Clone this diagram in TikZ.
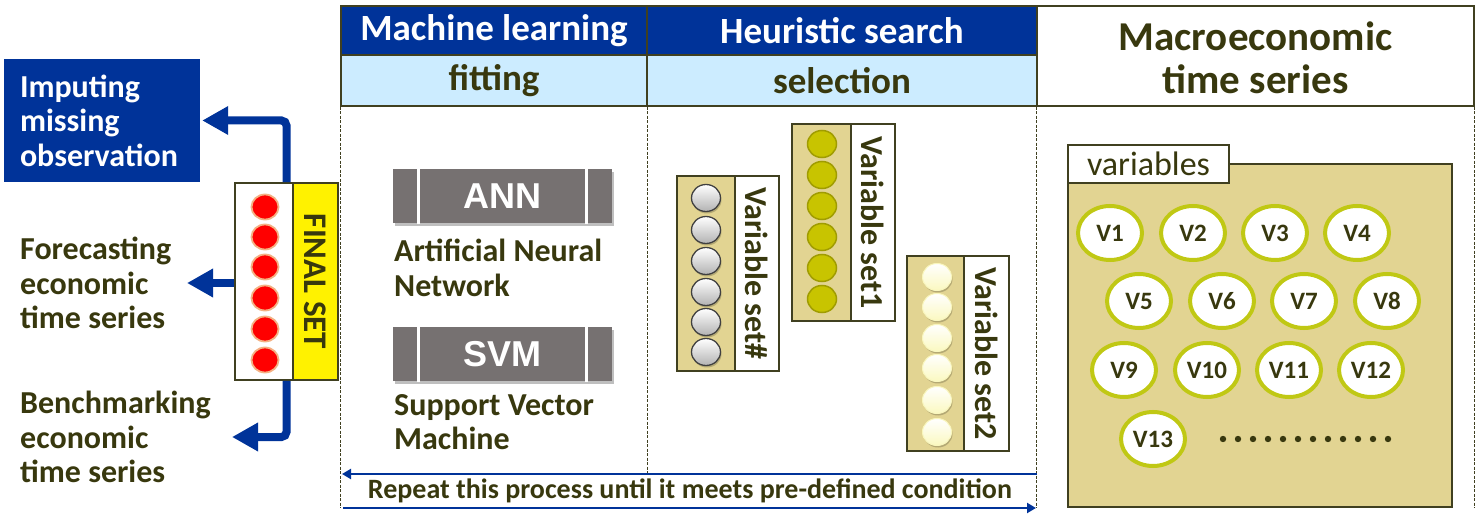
\documentclass[tikz,border=0pt]{standalone}
\usepackage{fontspec}
\setmainfont{Carlito}
\newfontfamily\arialf{Liberation Sans}
\usetikzlibrary{arrows.meta,shapes.geometric,shadows}
\definecolor{dol}{RGB}{56,56,14}
\definecolor{bord}{RGB}{64,64,32}
\definecolor{hblue}{RGB}{0,51,153}
\definecolor{lblue}{RGB}{204,236,255}
\definecolor{tan}{RGB}{226,212,146}
\definecolor{ygr}{RGB}{192,200,20}
\definecolor{gbox}{RGB}{118,113,113}
\definecolor{oball}{RGB}{200,196,0}
\definecolor{oballd}{RGB}{160,156,0}
\definecolor{pball}{RGB}{255,255,200}
\definecolor{peach}{RGB}{244,177,131}
\begin{document}
\begin{tikzpicture}[x=1pt,y=-1pt,
  lbl/.style={text=dol, font=\fontsize{32}{34.5}\selectfont\bfseries, align=left, inner sep=0},
  hcell/.style={draw=bord, line width=1.2pt, inner sep=0},
  htext/.style={font=\fontsize{37}{38}\selectfont\bfseries},
  bigarrow/.style={draw=hblue, line width=8pt, rounded corners=5pt, -{Triangle[length=26pt,width=27pt]}},
  dashline/.style={draw=bord, line width=1.2pt, dash pattern=on 3pt off 1.5pt},
  loop/.style={draw=hblue, line width=2.5pt, -{Triangle[length=9pt,width=10pt]}},
  mlbox/.style={fill=gbox, minimum width=219pt, minimum height=54pt, inner sep=0, text=white,
     font=\arialf\bfseries\fontsize{36}{36}\selectfont,
     drop shadow={shadow xshift=2pt, shadow yshift=-3pt, fill=black, opacity=.25}},
  setbox/.style={draw=bord, line width=1.5pt, fill=tan, inner sep=0},
  setlab/.style={draw=bord, line width=1.5pt, fill=white, inner sep=0, rotate=-90, text=dol,
     font=\fontsize{32}{32}\selectfont\bfseries},
  ball/.style={ellipse, minimum width=29pt, minimum height=27pt, inner sep=0},
  gball/.style={ball, draw=black!75, line width=1.3pt, top color=white, bottom color=black!30,
     drop shadow={shadow xshift=1pt, shadow yshift=-2pt, fill=black, opacity=.2}},
  oballs/.style={ball, draw=oballd, line width=1.5pt, fill=oball},
  pballs/.style={ball, draw=pball!80!tan, line width=1pt, top color=white, bottom color=pball!85!tan,
     drop shadow={shadow xshift=1pt, shadow yshift=-2pt, fill=black, opacity=.2}},
  rball/.style={ellipse, minimum width=27pt, minimum height=25pt, inner sep=0, fill=red, draw=peach, line width=1.8pt},
  vnode/.style={ellipse, minimum width=64pt, minimum height=54pt, inner sep=0, fill=white, draw=ygr,
     line width=4pt, text=dol, font=\fontsize{25}{25}\selectfont\bfseries}
]
\useasboundingbox (0,0) rectangle (1476,521);

% header cells
\node[hcell, fill=hblue, minimum width=306pt, minimum height=49pt] (ml) at (494,30.5) {};
\node[htext, text=white] at (ml.center) {Machine learning};
\node[hcell, fill=hblue, minimum width=390pt, minimum height=49pt] (hs) at (842,30.5) {};
\node[htext, text=white] at (hs.center) {Heuristic search};
\node[hcell, fill=lblue, minimum width=306pt, minimum height=51pt] (fit) at (494,80.5) {};
\node[htext, text=dol] at (fit.center) {fitting};
\node[hcell, fill=lblue, minimum width=390pt, minimum height=51pt] (sel) at (842,80.5) {};
\node[htext, text=dol] at (sel.center) {selection};
\node[hcell, fill=white, minimum width=437pt, minimum height=100pt] (mac) at (1255.5,56) {};
\node[text=dol, align=center, font=\fontsize{41}{43}\selectfont\bfseries] at (1255.5,58) {Macroeconomic\\time series};

% dashed separators
\coordinate (bot) at (0,508);
\coordinate (midbot) at (0,474);
\draw[dashline] (fit.south west) -- (fit.south west |- bot);
\draw[dashline] (fit.south east) -- (fit.south east |- midbot);
\draw[dashline] (mac.south west) -- (mac.south west |- bot);
\draw[dashline] (mac.south east) -- (mac.south east |- bot);

% repeat loop
\coordinate (lr) at (1037,474);
\coordinate (ll) at (342,474);
\coordinate (br) at (1036,508);
\coordinate (bl) at (343,508);
\draw[loop] (lr) -- (ll);
\draw[loop] (bl) -- (br);
\node[text=dol, font=\fontsize{28}{28}\selectfont\bfseries, inner sep=0] (rep) at (690,491) {Repeat this process until it meets pre-defined condition};

% machine learning boxes
\node[mlbox] (ann) at (502.5,196.5) {ANN};
\draw[white, line width=3pt] ([xshift=26pt]ann.north west) -- ([xshift=26pt]ann.south west);
\draw[white, line width=3pt] ([xshift=-26pt]ann.north east) -- ([xshift=-26pt]ann.south east);
\node[lbl, anchor=west] (annl) at (394,268) {Artificial Neural\\Network};
\node[mlbox] (svm) at (502.5,354.5) {SVM};
\draw[white, line width=3pt] ([xshift=26pt]svm.north west) -- ([xshift=26pt]svm.south west);
\draw[white, line width=3pt] ([xshift=-26pt]svm.north east) -- ([xshift=-26pt]svm.south east);
\node[lbl, anchor=west] (svml) at (394,422) {Support Vector\\Machine};

% variable sets
\node[setbox, minimum width=102pt, minimum height=195pt] (s0) at (728,273.5) {};
\node[setlab, minimum width=195pt, minimum height=44pt] (s0l) at (757,273.5) {Variable set\#};
\foreach \y in {198,230,261,292,322,352} \node[gball] at (706,\y) {};
\node[setbox, minimum width=103pt, minimum height=197pt] (s1) at (843.5,222.5) {};
\node[setlab, minimum width=197pt, minimum height=44pt] (s1l) at (873,222.5) {Variable set1};
\foreach \y in {144,175,206,237,268,299} \node[oballs] at (822,\y) {};
\node[setbox, minimum width=102pt, minimum height=195pt] (s2) at (958,353.5) {};
\node[setlab, minimum width=195pt, minimum height=45pt] (s2l) at (986.5,353.5) {Variable set2};
\foreach \y in {277,307,338,368,400,432} \node[pballs] at (937,\y) {};

% variables panel
\node[draw=bord, line width=1.8pt, fill=tan, minimum width=384pt, minimum height=343pt, inner sep=0] (vp) at (1260,335.5) {};
\node[draw=bord, line width=1.8pt, fill=white, minimum width=161pt, minimum height=38pt, inner sep=0,
  text=dol, font=\fontsize{34}{34}\selectfont] (vtab) at (1148.5,164) {variables};
\foreach \n/\x/\y in {1/1110/233,2/1193/233,3/1275/233,4/1357/233,
  5/1139/301,6/1222/301,7/1304/301,8/1387/301,
  9/1124/370,10/1207/370,11/1289/370,12/1371/370,13/1153/439}
  \node[vnode] (v\n) at (\x,\y) {V\n};
\foreach \i in {0,...,11} \fill[dol] (1223+15*\i,439) circle (3.2pt);

% final set
\node[draw=bord, line width=1.8pt, fill=white, minimum width=103pt, minimum height=197pt, inner sep=0] (fs) at (286.5,281.5) {};
\node[draw=bord, line width=1.8pt, fill=yellow, minimum width=197pt, minimum height=45pt, inner sep=0, rotate=-90,
  text=dol, font=\fontsize{33}{33}\selectfont\bfseries] (fsl) at (315.5,281.5) {FINAL SET};
\foreach \y in {207,237,267,298,329,360} \node[rball] at (265,\y) {};

% outputs
\node[fill=hblue, minimum width=196pt, minimum height=123pt, inner xsep=16pt, inner ysep=0, text width=164pt,
  align=left, text=white, font=\fontsize{32}{34.5}\selectfont\bfseries] (imp) at (102,120.5) {Imputing\\missing\\observation};
\node[lbl, anchor=west] (fc) at (20,283) {Forecasting\\economic\\time series};
\node[lbl, anchor=west] (bm) at (20,437) {Benchmarking\\economic\\time series};
\coordinate (fctip) at (187,283);
\coordinate (bmtip) at (232,437);
\draw[bigarrow, shorten >=2pt] (fs.north) |- (imp.east);
\draw[bigarrow] (fs.west |- fctip) -- (fctip);
\draw[bigarrow] (fs.south) |- (bmtip);
\end{tikzpicture}
\end{document}
